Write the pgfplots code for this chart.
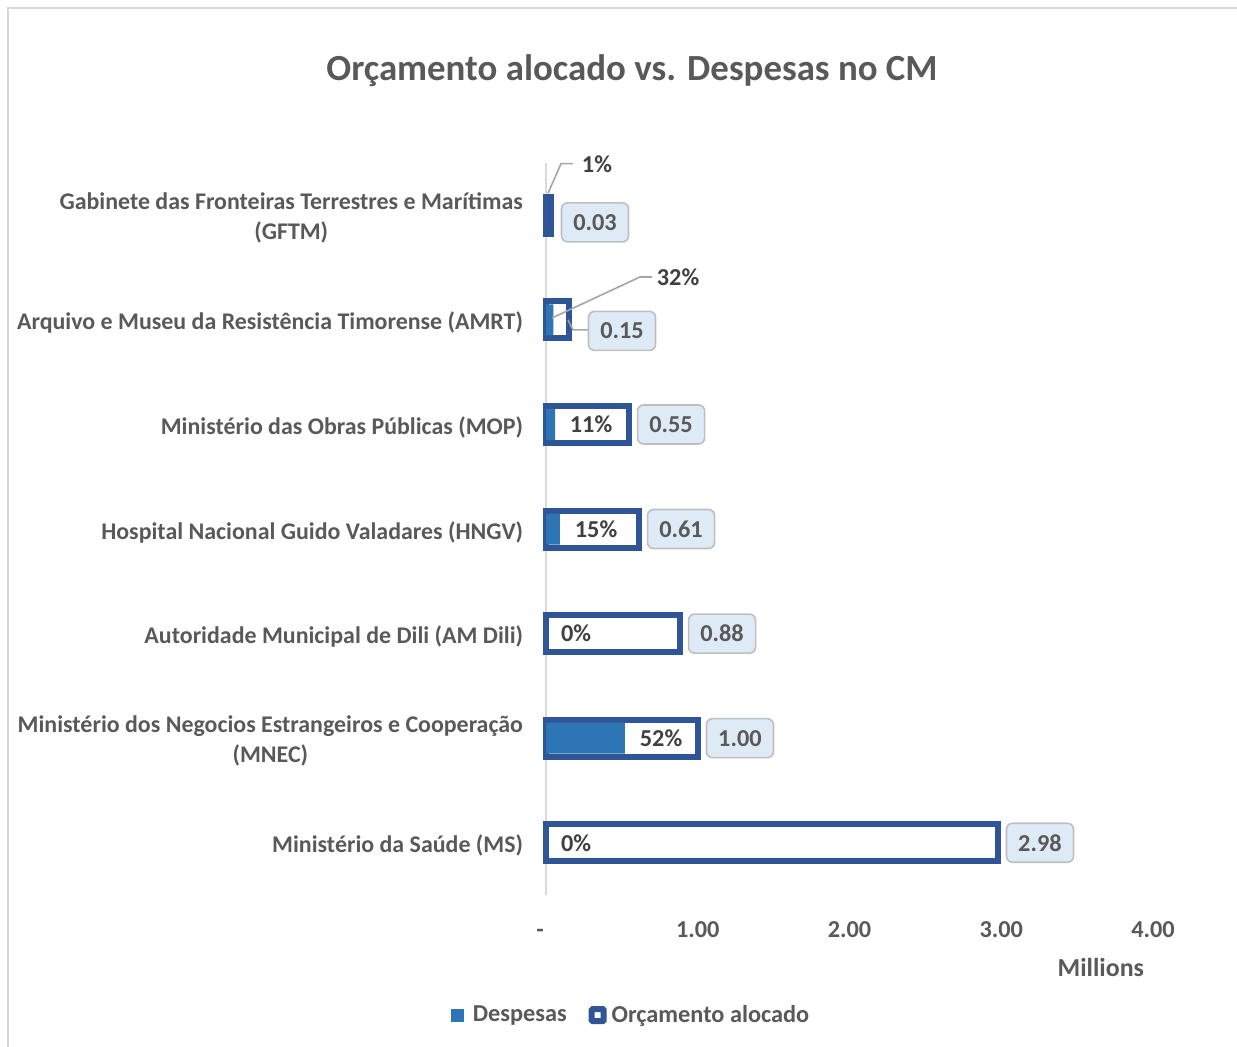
\documentclass[border=0pt]{standalone}
\usepackage{fontspec}
\setmainfont{Carlito}
\usepackage{pgfplots}
\pgfplotsset{compat=1.18}
\definecolor{budget}{HTML}{2F5597}
\definecolor{desp}{HTML}{2E75B6}
\definecolor{txt}{HTML}{595959}
\definecolor{dtxt}{HTML}{404040}
\definecolor{boxfill}{HTML}{DEEBF7}
\definecolor{boxdraw}{HTML}{BFBFBF}
\definecolor{axline}{HTML}{D9D9D9}
\definecolor{leader}{HTML}{A6A6A6}
\tikzset{
  vbox/.style={fill=boxfill, draw=boxdraw, line width=0.8bp, rounded corners=3bp,
    minimum width=33.5bp, minimum height=19.5bp, inner sep=0pt, text=txt,
    font=\fontsize{12.2}{14}\selectfont\bfseries},
  pct/.style={text=dtxt, inner sep=0pt, font=\fontsize{12.2}{14}\selectfont\bfseries},
}
\begin{document}
\begin{tikzpicture}
\begin{scope}[x=0.5bp,y=-0.5bp]
\useasboundingbox (0,0) rectangle (1237,1046);
\draw[axline, line width=0.7bp] (8,1100) -- (8,8) -- (1300,8);
\node[txt, font=\fontsize{18.5}{21}\selectfont\bfseries] at (632,71) {Orçamento alocado vs. Despesas no CM};
\end{scope}
\begin{axis}[
  at={(273bp,-447.5bp)}, anchor=south west,
  scale only axis, width=303.5bp, height=366bp,
  xmin=0, xmax=4, ymin=-0.5, ymax=6.5, y dir=reverse,
  clip=false,
  axis y line*=left, axis x line*=bottom,
  x axis line style={draw=none},
  y axis line style={draw=axline, line width=0.8bp, -},
  major tick length=0pt,
  xtick={0,1,2,3,4}, xticklabels={\hspace*{-6bp}\vphantom{0}-,1.00,2.00,3.00,4.00},
  xticklabel style={text=txt, font=\fontsize{12.2}{14}\selectfont\bfseries, yshift=-9.5bp},
  ytick={0,...,6},
  yticklabels={{Gabinete das Fronteiras Terrestres e Marítimas\\(GFTM)},
    {Arquivo e Museu da Resistência Timorense (AMRT)},
    {Ministério das Obras Públicas (MOP)},
    {Hospital Nacional Guido Valadares (HNGV)},
    {Autoridade Municipal de Dili (AM Dili)},
    {Ministério dos Negocios Estrangeiros e Cooperação\\(MNEC)},
    {Ministério da Saúde (MS)}},
  yticklabel style={align=center, text=txt, font=\fontsize{12}{15}\selectfont\bfseries, xshift=-8bp, yshift=-1.5bp},
  xlabel={Millions},
  xlabel style={at={(axis description cs:0.914,-0.0984)}, anchor=center, text=txt,
    font=\fontsize{13}{15}\selectfont\bfseries},
  legend style={at={(axis description cs:0.1417,-0.1640)}, anchor=center, draw=none,
    legend columns=2, font=\fontsize{12.2}{14}\selectfont\bfseries, text=txt,
    /tikz/every even column/.append style={column sep=9bp}},
]
\addlegendimage{legend image code/.code={\path[draw=none,fill=none] (0bp,0bp) rectangle (9bp,0.1bp);\fill[desp, draw=none] (0bp,-3.25bp) rectangle (6.5bp,3.25bp);}}
\addlegendentry{Despesas}
\addlegendimage{legend image code/.code={\path[draw=none,fill=none] (0bp,0bp) rectangle (9.5bp,0.1bp);\draw[budget, fill=white, line width=3bp, rounded corners=0.5bp] (1.5bp,-3bp) rectangle (7.5bp,3bp);}}
\addlegendentry{Orçamento alocado}

\addplot[xbar, bar width=18.5bp, bar shift=0pt, fill=white, draw=budget, line width=3bp, forget plot]
  coordinates {(0.03,0) (0.15,1) (0.55,2) (0.61,3) (0.88,4) (1.00,5) (2.98,6)};
\addplot[xbar, bar width=15.5bp, bar shift=0pt, fill=desp, draw=none, forget plot]
  coordinates {(0.0003,0) (0.048,1) (0.0605,2) (0.0915,3) (0,4) (0.52,5) (0,6)};

% leader lines
\draw[leader, line width=0.8bp] (axis cs:0.013,-0.21) -- (axis cs:0.099,-0.495) -- (axis cs:0.178,-0.495);
\draw[leader, line width=0.8bp] (axis cs:0.040,0.981) -- (axis cs:0.619,0.590) -- (axis cs:0.699,0.590);
\draw[leader, line width=0.8bp] (axis cs:0.145,1.0) -- (axis cs:0.178,1.095) -- (axis cs:0.277,1.095);

% percentage labels
\node[pct] at (axis cs:0.336,-0.486) {1\%};
\node[pct] at (axis cs:0.870,0.590) {32\%};
\node[pct] at (axis cs:0.297,2) {11\%};
\node[pct] at (axis cs:0.330,3) {15\%};
\node[pct] at (axis cs:0.198,4) {0\%};
\node[pct] at (axis cs:0.758,5) {52\%};
\node[pct] at (axis cs:0.198,6) {0\%};

% value labels
\node[vbox] at (axis cs:0.323,0.067) {0.03};
\node[vbox] at (axis cs:0.501,1.105) {0.15};
\node[vbox] at (axis cs:0.824,2) {0.55};
\node[vbox] at (axis cs:0.890,3) {0.61};
\node[vbox] at (axis cs:1.160,4) {0.88};
\node[vbox] at (axis cs:1.278,5) {1.00};
\node[vbox] at (axis cs:3.255,6) {2.98};
\end{axis}
\end{tikzpicture}
\end{document}
